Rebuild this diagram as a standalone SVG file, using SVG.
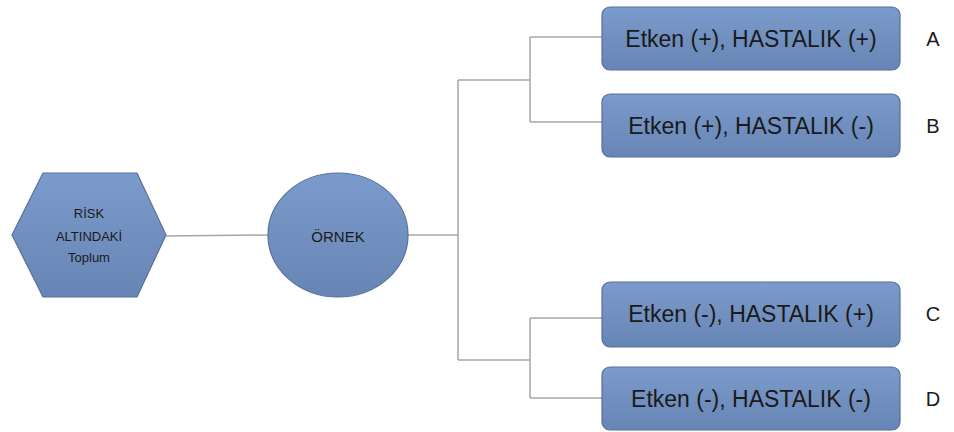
<svg xmlns="http://www.w3.org/2000/svg" width="954" height="432" viewBox="0 0 954 432">
<defs>
<linearGradient id="g" x1="0" y1="0" x2="0" y2="1">
<stop offset="0" stop-color="#7b9bcc"/>
<stop offset="1" stop-color="#6785b4"/>
</linearGradient>
<style>
.shape{fill:url(#g);stroke:#56719c;stroke-width:1.2}
.conn{fill:none;stroke:#a6a6a6;stroke-width:1.5}
.t{font-family:"Liberation Sans",Arial,sans-serif;fill:#1a1a1a;text-anchor:middle;dominant-baseline:central}
.big{font-size:23px}
.small{font-size:13px}
.mid{font-size:15px}
.lbl{font-family:"Liberation Sans",Arial,sans-serif;font-size:20px;fill:#1a1a1a;text-anchor:middle;dominant-baseline:central}
</style>
</defs>
<rect width="954" height="432" fill="#ffffff"/>
<g id="connectors">
<path class="conn" d="M166 236 L268 235"/>
<path class="conn" d="M408 235 L458 235"/>
<path class="conn" d="M458 80 L458 360"/>
<path class="conn" d="M458 80 L530 80"/>
<path class="conn" d="M530 37 L530 122"/>
<path class="conn" d="M530 37 L602 37"/>
<path class="conn" d="M530 122 L602 122"/>
<path class="conn" d="M458 360 L530 360"/>
<path class="conn" d="M530 318 L530 398"/>
<path class="conn" d="M530 318 L602 318"/>
<path class="conn" d="M530 398 L602 398"/>
</g>
<g id="risk">
<polygon class="shape" points="12,235 43,173 137,173 166,235 137,297 43,297"/>
<text class="t small" x="89" y="213">RİSK</text>
<text class="t small" x="89" y="236">ALTINDAKİ</text>
<text class="t small" x="89" y="257">Toplum</text>
</g>
<g id="ornek">
<ellipse class="shape" cx="338" cy="235" rx="70" ry="62"/>
<text class="t mid" x="338" y="236">ÖRNEK</text>
</g>
<g id="boxA">
<rect class="shape" x="602" y="7" width="298" height="63" rx="8"/>
<text class="t big" x="751" y="39">Etken (+), HASTALIK (+)</text>
</g>
<g id="boxB">
<rect class="shape" x="602" y="94" width="298" height="63" rx="8"/>
<text class="t big" x="751" y="126">Etken (+), HASTALIK (-)</text>
</g>
<g id="boxC">
<rect class="shape" x="602" y="282" width="298" height="65" rx="8"/>
<text class="t big" x="751" y="314">Etken (-), HASTALIK (+)</text>
</g>
<g id="boxD">
<rect class="shape" x="602" y="367" width="298" height="63" rx="8"/>
<text class="t big" x="751" y="399">Etken (-), HASTALIK (-)</text>
</g>
<g id="labels">
<text class="lbl" x="933" y="39">A</text>
<text class="lbl" x="933" y="126">B</text>
<text class="lbl" x="933" y="314">C</text>
<text class="lbl" x="933" y="399">D</text>
</g>
</svg>
